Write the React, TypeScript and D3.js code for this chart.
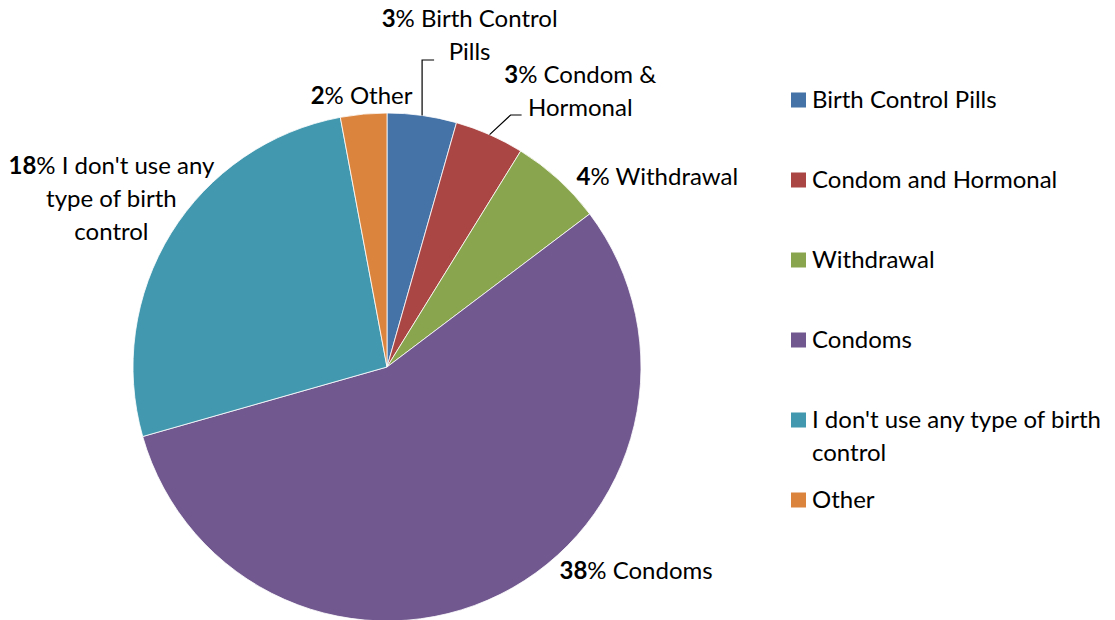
import { useEffect, useRef } from "react";
import * as d3 from "d3";

const categories = [
  "Birth Control Pills",
  "Condom and Hormonal",
  "Withdrawal",
  "Condoms",
  "I don't use any type of birth control",
  "Other",
];
const values = [3, 3, 4, 38, 18, 2];
// label text shown next to each slice (line breaks as in the picture)
const labelLines = [
  ["Birth Control", "Pills"],
  ["Condom &", "Hormonal"],
  ["Withdrawal"],
  ["Condoms"],
  ["I don't use any", "type of birth", "control"],
  ["Other"],
];
const legendLines = [
  ["Birth Control Pills"],
  ["Condom and Hormonal"],
  ["Withdrawal"],
  ["Condoms"],
  ["I don't use any type of birth", "control"],
  ["Other"],
];
const colors = ["#4572A7", "#AA4643", "#89A54E", "#71588F", "#4198AF", "#DB843D"];

const width = 1115;
const height = 620;
const FONT = "Lato, 'Open Sans', sans-serif";
const FS = 24;

function App() {
  const svgRef = useRef<SVGSVGElement>(null);

  useEffect(() => {
    const svg = d3.select(svgRef.current);
    svg.selectAll("*").remove();

    const cx = 387, cy = 367, r = 254;

    const pie = d3.pie<number>().sort(null).value((d) => d);
    const arcs = pie(values);
    const arc = d3.arc<d3.PieArcDatum<number>>().innerRadius(0).outerRadius(r);

    const g = svg.append("g").attr("transform", `translate(${cx},${cy})`);
    g.selectAll("path")
      .data(arcs)
      .enter()
      .append("path")
      .attr("d", arc)
      .attr("fill", (d, i) => colors[i])
      .attr("stroke", "#ffffff")
      .attr("stroke-width", 0.8);

    // ####### data labels #######
    const labelArc = d3.arc<d3.PieArcDatum<number>>().innerRadius(330).outerRadius(330);
    // nudges from the label arc so labels sit where excel put them
    const nudge = [
      [37, -5],
      [60, 26],
      [48, 53],
      [102, -92],
      [5, 5],
      [5, 57],
    ];
    const lh = 33;
    arcs.forEach((a, i) => {
      const [lx, ly] = labelArc.centroid(a);
      const x = lx + nudge[i][0];
      const y = ly + nudge[i][1];
      const lines = labelLines[i];
      const y0 = y - ((lines.length - 1) * lh) / 2;
      const t = g
        .append("text")
        .attr("font-family", FONT)
        .attr("font-size", FS)
        .attr("fill", "#000")
        .attr("text-anchor", "middle");
      lines.forEach((ln, j) => {
        const ts = t
          .append("tspan")
          .attr("x", x)
          .attr("y", y0 + j * lh)
          .attr("dy", "0.35em");
        if (j === 0) {
          ts.append("tspan").attr("font-weight", "bold").text(values[i]);
          ts.append("tspan").text("% " + ln);
        } else {
          ts.text(ln);
        }
      });
    });

    // ####### leader lines (first two small slices) #######
    const edge = (a: d3.PieArcDatum<number>) => {
      const m = (a.startAngle + a.endAngle) / 2;
      return [Math.sin(m) * r, -Math.cos(m) * r];
    };
    const p0 = edge(arcs[0]);
    const p1 = edge(arcs[1]);
    const leader = d3.line();
    g.append("path")
      .attr("d", leader([[p0[0], p0[1]], [p0[0], 60 - cy], [p0[0] + 12, 60 - cy]]))
      .attr("fill", "none")
      .attr("stroke", "#000")
      .attr("stroke-width", 1.2);
    g.append("path")
      .attr("d", leader([[p1[0], p1[1]], [p1[0] + 21, 115 - cy], [p1[0] + 32, 115 - cy]]))
      .attr("fill", "none")
      .attr("stroke", "#000")
      .attr("stroke-width", 1.2);

    // ####### legend #######
    const legendY = d3.scalePoint<number>().domain(d3.range(categories.length)).range([100, 500]);
    const leg = svg.append("g");
    categories.forEach((c, i) => {
      const y = legendY(i)!;
      leg.append("rect")
        .attr("x", 791)
        .attr("y", y - 7.5)
        .attr("width", 15)
        .attr("height", 15)
        .attr("fill", colors[i]);
      const t = leg
        .append("text")
        .attr("font-family", FONT)
        .attr("font-size", FS)
        .attr("fill", "#000");
      legendLines[i].forEach((ln, j) => {
        t.append("tspan")
          .attr("x", 812)
          .attr("y", y + j * lh)
          .attr("dy", "0.35em")
          .text(ln);
      });
    });
  }, []);

  return (
    <svg
      ref={svgRef}
      width={width}
      height={height}
      style={{ position: "absolute", left: 0, top: 0, background: "#fff" }}
    ></svg>
  );
}

export default App;
